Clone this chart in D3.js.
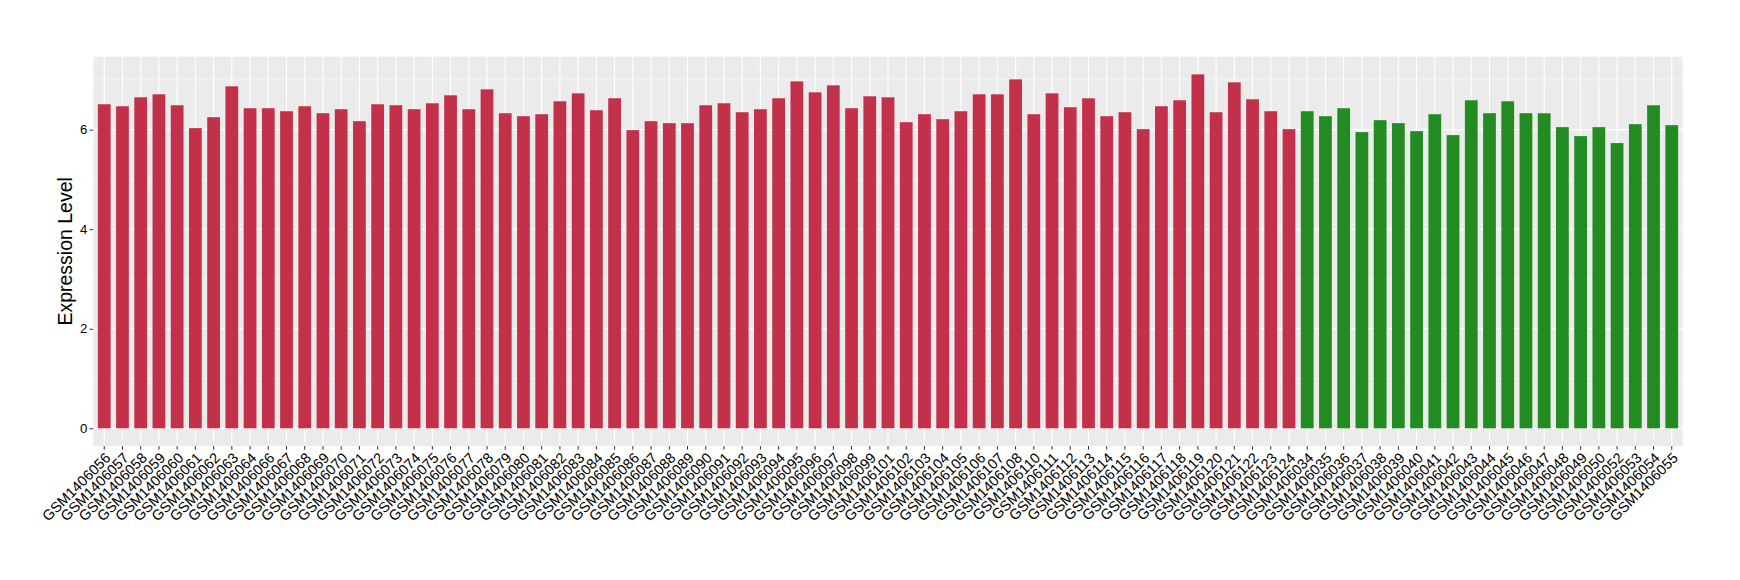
<!DOCTYPE html>
<meta charset="utf-8" />
<style>
  body { margin: 0; background: #fff; }
  svg { display: block; }
  .tick text { font-family: "Liberation Sans", Arial, sans-serif; fill: #000; }
</style>
<body>
<script src="https://d3js.org/d3.v7.min.js"></script>
<script>

// samples of the first group (red) and their expression
var redSamples = ["GSM1406056","GSM1406057","GSM1406058","GSM1406059","GSM1406060","GSM1406061","GSM1406062","GSM1406063","GSM1406064","GSM1406066",
  "GSM1406067","GSM1406068","GSM1406069","GSM1406070","GSM1406071","GSM1406072","GSM1406073","GSM1406074","GSM1406075","GSM1406076",
  "GSM1406077","GSM1406078","GSM1406079","GSM1406080","GSM1406081","GSM1406082","GSM1406083","GSM1406084","GSM1406085","GSM1406086",
  "GSM1406087","GSM1406088","GSM1406089","GSM1406090","GSM1406091","GSM1406092","GSM1406093","GSM1406094","GSM1406095","GSM1406096",
  "GSM1406097","GSM1406098","GSM1406099","GSM1406101","GSM1406102","GSM1406103","GSM1406104","GSM1406105","GSM1406106","GSM1406107",
  "GSM1406108","GSM1406110","GSM1406111","GSM1406112","GSM1406113","GSM1406114","GSM1406115","GSM1406116","GSM1406117","GSM1406118",
  "GSM1406119","GSM1406120","GSM1406121","GSM1406122","GSM1406123","GSM1406124"];
var redValues = [6.51,6.47,6.65,6.71,6.49,6.03,6.25,6.87,6.43,6.43,
  6.37,6.47,6.33,6.41,6.17,6.51,6.49,6.41,6.53,6.69,
  6.41,6.81,6.33,6.27,6.31,6.57,6.73,6.39,6.63,5.99,
  6.17,6.13,6.13,6.49,6.53,6.35,6.41,6.63,6.97,6.75,
  6.89,6.43,6.67,6.65,6.15,6.31,6.21,6.37,6.71,6.71,
  7.01,6.31,6.73,6.45,6.63,6.27,6.35,6.01,6.47,6.59,
  7.11,6.35,6.95,6.61,6.37,6.01];

// samples of the second group (green)
var greenSamples = ["GSM1406034","GSM1406035","GSM1406036","GSM1406037","GSM1406038","GSM1406039","GSM1406040","GSM1406041","GSM1406042","GSM1406043",
  "GSM1406044","GSM1406045","GSM1406046","GSM1406047","GSM1406048","GSM1406049","GSM1406050","GSM1406052","GSM1406053","GSM1406054",
  "GSM1406055"];
var greenValues = [6.37,6.27,6.43,5.95,6.19,6.13,5.97,6.31,5.89,6.59,
  6.33,6.57,6.33,6.33,6.05,5.87,6.05,5.73,6.11,6.49,
  6.09];

var yTicks = [0, 2, 4, 6];
var yMinor = [1, 3, 5, 7];

var redColor = "#C3304A", greenColor = "#228B22";

var data = redSamples.map(function(s, i) { return {name: s, value: redValues[i], color: redColor}; })
  .concat(greenSamples.map(function(s, i) { return {name: s, value: greenValues[i], color: greenColor}; }));

var W = 1740, H = 580;
var panel = {left: 93.3, right: 1682.7, top: 56.7, bottom: 446};

var svg = d3.select("body").append("svg")
    .attr("width", W)
    .attr("height", H);

// ggplot style discrete axis: 0.6 unit expansion on each side
var x = d3.scaleBand()
    .domain(data.map(function(d) { return d.name; }))
    .range([panel.left, panel.right])
    .paddingInner(0)
    .paddingOuter(0.1);

var maxV = d3.max(data, function(d) { return d.value; });
var y = d3.scaleLinear()
    .domain([-0.05 * maxV, 1.05 * maxV])
    .range([panel.bottom, panel.top]);

// panel background
svg.append("rect")
    .attr("x", panel.left)
    .attr("y", panel.top)
    .attr("width", panel.right - panel.left)
    .attr("height", panel.bottom - panel.top)
    .attr("fill", "#EBEBEB");

// minor grid
svg.append("g").selectAll("line")
    .data(yMinor.filter(function(v) { return y(v) > panel.top; }))
  .enter().append("line")
    .attr("x1", panel.left).attr("x2", panel.right)
    .attr("y1", function(d) { return y(d); })
    .attr("y2", function(d) { return y(d); })
    .attr("stroke", "#fff")
    .attr("stroke-width", 0.55);

// major grid
svg.append("g").selectAll("line")
    .data(yTicks)
  .enter().append("line")
    .attr("x1", panel.left).attr("x2", panel.right)
    .attr("y1", function(d) { return y(d); })
    .attr("y2", function(d) { return y(d); })
    .attr("stroke", "#fff")
    .attr("stroke-width", 1.1);

svg.append("g").selectAll("line")
    .data(data)
  .enter().append("line")
    .attr("x1", function(d) { return x(d.name) + x.bandwidth() / 2; })
    .attr("x2", function(d) { return x(d.name) + x.bandwidth() / 2; })
    .attr("y1", panel.top).attr("y2", panel.bottom)
    .attr("stroke", "#fff")
    .attr("stroke-width", 1.1);

// bars
var barW = x.bandwidth() * 0.7;
svg.append("g").selectAll("rect")
    .data(data)
  .enter().append("rect")
    .attr("x", function(d) { return x(d.name) + (x.bandwidth() - barW) / 2; })
    .attr("width", barW)
    .attr("y", function(d) { return y(d.value); })
    .attr("height", function(d) { return y(0) - y(d.value); })
    .attr("fill", function(d) { return d.color; });

// y axis
var yAxis = svg.append("g")
    .attr("transform", "translate(" + panel.left + ",0)")
    .call(d3.axisLeft(y).tickValues(yTicks).tickSize(3.7).tickPadding(2.2).tickFormat(d3.format("d")));
yAxis.select(".domain").remove();
yAxis.selectAll(".tick line").attr("stroke", "#333");
yAxis.selectAll(".tick text").style("font-size", "13.2px");

// x axis
var xAxis = svg.append("g")
    .attr("transform", "translate(0," + panel.bottom + ")")
    .call(d3.axisBottom(x).tickSize(3.7).tickPadding(0));
xAxis.select(".domain").remove();
xAxis.selectAll(".tick line").attr("stroke", "#333");
xAxis.selectAll(".tick text")
    .style("font-size", "14.5px")
    .attr("text-anchor", "end")
    .attr("y", 0)
    .attr("dy", "0.71em")
    .attr("transform", "translate(0,5.5)rotate(-45)");

// y axis title
svg.append("text")
    .attr("transform", "translate(71.5," + ((panel.top + panel.bottom) / 2) + ")rotate(-90)")
    .attr("text-anchor", "middle")
    .style("font-family", "'Liberation Sans', Arial, sans-serif")
    .style("font-size", "19.5px")
    .attr("fill", "#000")
    .text("Expression Level");

</script>
</body>
